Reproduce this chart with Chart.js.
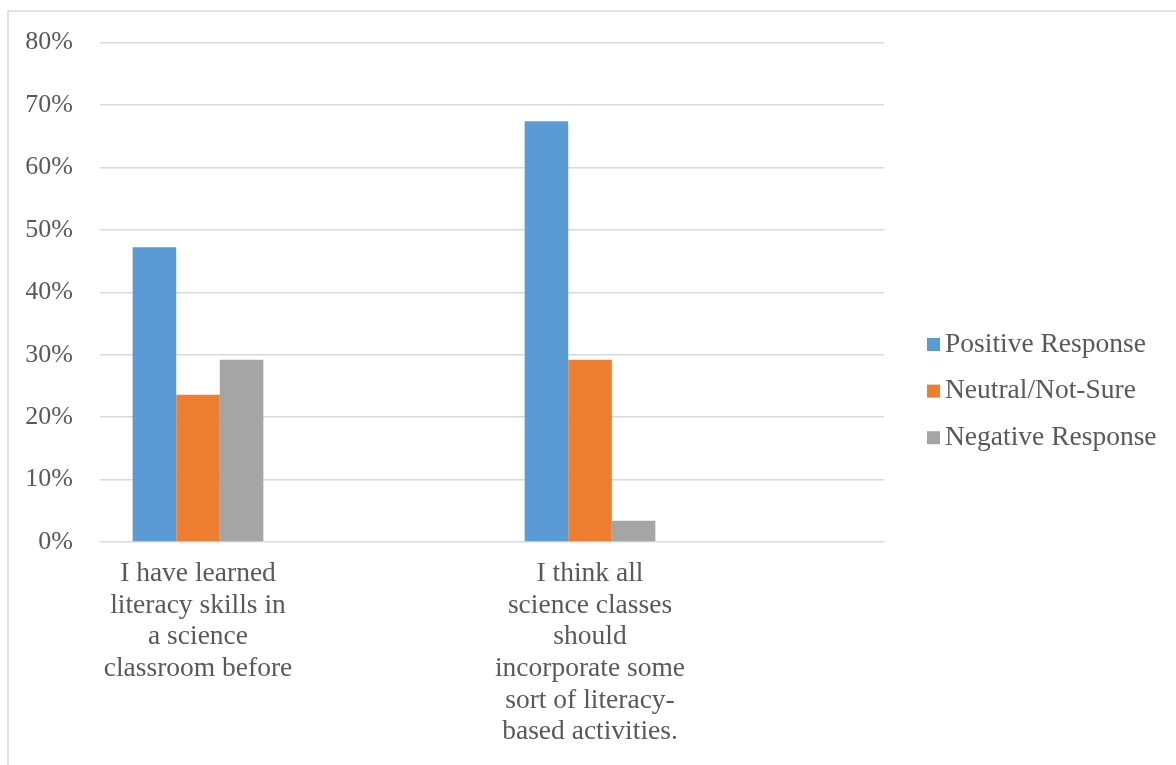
<!DOCTYPE html>
<html>
<head>
<meta charset="utf-8">
<script src="https://cdn.jsdelivr.net/npm/chart.js@4/dist/chart.umd.min.js"></script>
<style>
  html, body { margin: 0; padding: 0; background: #fff; }
  #wrap { width: 1176px; height: 765px; position: relative; }
</style>
</head>
<body>
<div id="wrap"><canvas id="chart"></canvas></div>
<script>
// survey statements (already split into the lines they wrap to)
const categories = [
    ['I have learned', 'literacy skills in', 'a science', 'classroom before'],
    ['I think all', 'science classes', 'should', 'incorporate some', 'sort of literacy-', 'based activities.']
];
const seriesNames = ['Positive Response', 'Neutral/Not-Sure', 'Negative Response'];
const positive = [47.2, 67.4];
const neutral = [23.6, 29.2];
const negative = [29.2, 3.4];
const yTicks = [0, 10, 20, 30, 40, 50, 60, 70, 80];

const colors = ['#5B9BD5', '#ED7D31', '#A5A5A5'];
const serif = "'Liberation Serif', 'Times New Roman', serif";
const textColor = '#595959';

// excel left an empty slot after each category, keep that spacing
const spread = arr => arr.flatMap(v => [v, null]);
const labels = categories.flatMap(c => [c, '']);

const frame = {
    id: 'frame',
    beforeDraw(chart) {
        const c = chart.ctx;
        c.save();
        c.strokeStyle = '#D9D9D9';
        c.lineWidth = 1.5;
        c.strokeRect(8, 11, 1300, 900);
        c.restore();
    }
};

const sideLegend = {
    id: 'sideLegend',
    afterDraw(chart) {
        const c = chart.ctx;
        c.save();
        c.font = '27.5px ' + serif;
        c.textBaseline = 'middle';
        chart.data.datasets.forEach((ds, i) => {
            const y = 344.5 + i * 46.6;
            c.fillStyle = ds.backgroundColor;
            c.fillRect(927, y - 6.5, 13, 13);
            c.fillStyle = textColor;
            c.fillText(ds.label, 945, y);
        });
        c.restore();
    }
};

new Chart(document.getElementById('chart'), {
    type: 'bar',
    data: {
        labels: labels,
        datasets: [positive, neutral, negative].map((d, i) => ({
            label: seriesNames[i],
            data: spread(d),
            backgroundColor: colors[i],
            categoryPercentage: 0.667,
            barPercentage: 1
        }))
    },
    options: {
        responsive: true,
        maintainAspectRatio: false,
        animation: false,
        layout: { padding: { left: 26, top: 41, right: 292, bottom: 0 } },
        plugins: {
            legend: { display: false },
            tooltip: { enabled: false }
        },
        scales: {
            x: {
                grid: { display: false, drawTicks: false },
                border: { display: false },
                ticks: {
                    color: textColor,
                    font: { family: serif, size: 27.5, lineHeight: 1.15 },
                    padding: 16,
                    maxRotation: 0,
                    autoSkip: false
                },
                afterFit: s => { s.height = 223; }
            },
            y: {
                min: 0,
                max: 80,
                afterBuildTicks: s => { s.ticks = yTicks.map(v => ({ value: v })); },
                grid: { color: '#D9D9D9', lineWidth: 1.5, drawTicks: false },
                border: { display: false },
                ticks: {
                    color: textColor,
                    font: { family: serif, size: 26 },
                    padding: 27,
                    callback: v => v + '%'
                },
                afterFit: s => { s.width = 74; }
            }
        }
    },
    plugins: [frame, sideLegend]
});
</script>
</body>
</html>
